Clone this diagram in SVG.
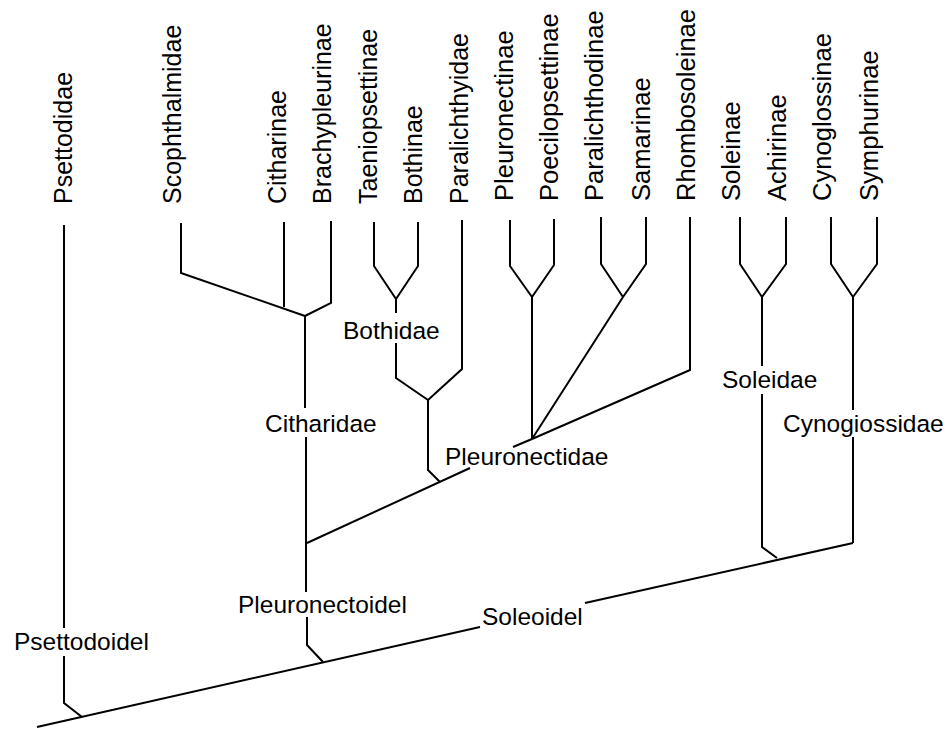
<svg xmlns="http://www.w3.org/2000/svg" width="951" height="729" viewBox="0 0 951 729">
<style>
  text { font-family: "Liberation Sans", Arial, Helvetica, sans-serif; fill: #000; }
  .v { font-size: 25px; }
  .vr { font-size: 25.6px; }
  .h { font-size: 24.5px; }
  .ln { fill: none; stroke: #000; stroke-width: 2; stroke-linejoin: miter; stroke-linecap: butt; }
</style>
<rect width="951" height="729" fill="#fff"/>
<g id="connectors" class="ln">
  <path d="M64 225 V628 M64 656 V703 L82 717"/>
  <path d="M181 223 V273 L305 316 M284 222 V307 M331 221 V303 L305 316"/>
  <path d="M305 316 V408 M306 437 V592 M307 617 V645 L323 662"/>
  <path d="M307 543 L470 468 M513 447 L532 439"/>
  <path d="M374 222 V266 L396 299 M418 222 V266 L396 299 M396 299 V313 M396 343 V378 L428 400 M462 220 V369 L428 400 M428 400 V470 L440 482"/>
  <path d="M510 220 V266 L532 297 M554 219 V265 L532 297 M532 297 V439"/>
  <path d="M601 217 V264 L623 297 M646 217 V264 L623 297 M623 297 L532 439"/>
  <path d="M690 217 V370 L532 439"/>
  <path d="M740 217 V264 L762 297 M786 217 V264 L762 297 M762 297 V366 M762 394 V547 L777 558"/>
  <path d="M831 217 V264 L853 297 M877 217 V264 L853 297 M853 297 V410 M853 437 V543"/>
  <path d="M37 727 L480 627 M585 603 L853 543"/>
</g>
<g id="n-psettodidae"><text class="v" transform="translate(72,204) rotate(-90)">Psettodidae</text></g>
<g id="n-scophthalmidae"><text class="v" transform="translate(181,204) rotate(-90)">Scophthalmidae</text></g>
<g id="n-citharinae"><text class="v" transform="translate(286,204) rotate(-90)">Citharinae</text></g>
<g id="n-brachypleurinae"><text class="v" transform="translate(331,204) rotate(-90)">Brachypleurinae</text></g>
<g id="n-taeniopsettinae"><text class="v" transform="translate(377,204) rotate(-90)">Taeniopsettinae</text></g>
<g id="n-bothinae"><text class="v" transform="translate(422,204) rotate(-90)">Bothinae</text></g>
<g id="n-paralichthyidae"><text class="v" transform="translate(468,204) rotate(-90)">Paralichthyidae</text></g>
<g id="n-pleuronectinae"><text class="vr" transform="translate(513,201) rotate(-90)">Pleuronectinae</text></g>
<g id="n-poecilopsettinae"><text class="vr" transform="translate(558,201) rotate(-90)">Poecilopsettinae</text></g>
<g id="n-paralichthodinae"><text class="vr" transform="translate(603,201) rotate(-90)">Paralichthodinae</text></g>
<g id="n-samarinae"><text class="vr" transform="translate(650,201) rotate(-90)">Samarinae</text></g>
<g id="n-rhombosoleinae"><text class="vr" transform="translate(695,201) rotate(-90)">Rhombosoleinae</text></g>
<g id="n-soleinae"><text class="vr" transform="translate(740,201) rotate(-90)">Soleinae</text></g>
<g id="n-achirinae"><text class="vr" transform="translate(786,201) rotate(-90)">Achirinae</text></g>
<g id="n-cynoglossinae"><text class="vr" transform="translate(831,201) rotate(-90)">Cynoglossinae</text></g>
<g id="n-symphurinae"><text class="vr" transform="translate(878,201) rotate(-90)">Symphurinae</text></g>
<g id="n-bothidae"><text class="h" x="343" y="339">Bothidae</text></g>
<g id="n-citharidae"><text class="h" x="265" y="432">Citharidae</text></g>
<g id="n-pleuronectidae"><text class="h" x="445" y="465">Pleuronectidae</text></g>
<g id="n-soleidae"><text class="h" x="722" y="388">Soleidae</text></g>
<g id="n-cynogiossidae"><text class="h" x="783" y="432">Cynogiossidae</text></g>
<g id="n-pleuronectoidel"><text class="h" x="238" y="613">Pleuronectoidel</text></g>
<g id="n-psettodoidel"><text class="h" x="14" y="650">Psettodoidel</text></g>
<g id="n-soleoidel"><text class="h" x="482" y="625">Soleoidel</text></g>
</svg>
